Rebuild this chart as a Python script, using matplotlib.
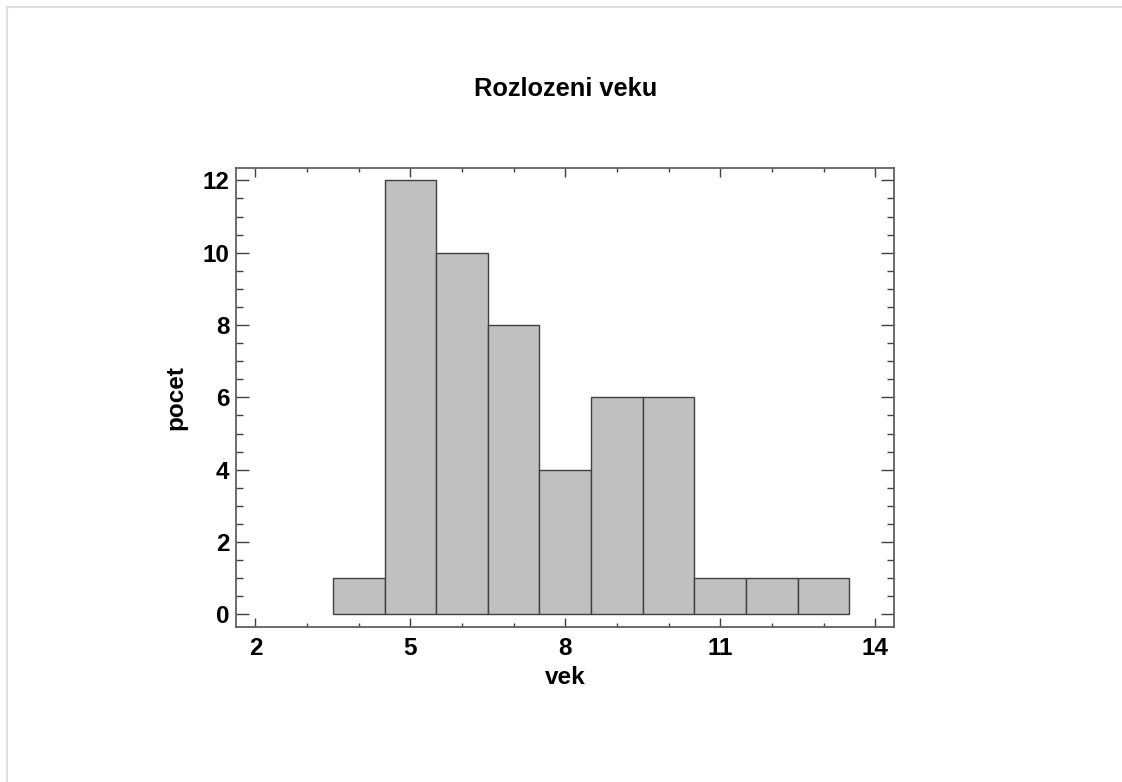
import numpy as np
import matplotlib
matplotlib.use('Agg')
import matplotlib.pyplot as plt
from matplotlib.ticker import MultipleLocator
from matplotlib.lines import Line2D

# histogram data (bins of width 1, centred on whole ages)
bin_edges = [3.5, 4.5, 5.5, 6.5, 7.5, 8.5, 9.5, 10.5, 11.5, 12.5, 13.5]
counts = [1, 12, 10, 8, 4, 6, 6, 1, 1, 1]
x_ticks = [2, 5, 8, 11, 14]
y_ticks = [0, 2, 4, 6, 8, 10, 12]

plt.rcParams['font.family'] = ['Liberation Sans', 'DejaVu Sans']
plt.rcParams['font.weight'] = 'bold'

fig = plt.figure(figsize=(11.22, 7.82), dpi=100)
ax = fig.add_axes([0.2106, 0.1986, 0.5865, 0.5869])

widths = np.diff(bin_edges)
ax.bar(bin_edges[:-1], counts, width=widths, align='edge',
       color='#c0c0c0', edgecolor='#404040', linewidth=1)

ax.set_xlim(1.63, 14.37)
ax.set_ylim(-0.34, 12.35)
ax.set_xticks(x_ticks)
ax.set_yticks(y_ticks)
ax.xaxis.set_minor_locator(MultipleLocator(1))
ax.yaxis.set_minor_locator(MultipleLocator(0.5))

ax.tick_params(axis='both', which='both', direction='in', color='#404040',
               width=1, labelsize=17.5, top=True, right=True)
ax.tick_params(axis='x', which='major', length=6.5, pad=7.5)
ax.tick_params(axis='x', which='minor', length=3.2)
ax.tick_params(axis='y', which='major', length=9.4, pad=5)
ax.tick_params(axis='y', which='minor', length=4.7)

for s in ax.spines.values():
    s.set_color('#606060')
    s.set_linewidth(1.3)

ax.set_title('Rozlozeni veku', fontsize=18.3, fontweight='bold', pad=51.6)
ax.set_xlabel('vek', fontsize=17.5, fontweight='bold', labelpad=4.5)
ax.set_ylabel('pocet', fontsize=17.5, fontweight='bold', labelpad=11)

# light border at the top and left of the picture
fig.add_artist(Line2D([6.5 / 1122, 1], [1 - 6.5 / 782, 1 - 6.5 / 782],
                      transform=fig.transFigure, color='#dddddd', linewidth=1.5))
fig.add_artist(Line2D([6.5 / 1122, 6.5 / 1122], [0, 1 - 6.5 / 782],
                      transform=fig.transFigure, color='#dddddd', linewidth=1.5))

fig.savefig('out.png', dpi=100)
